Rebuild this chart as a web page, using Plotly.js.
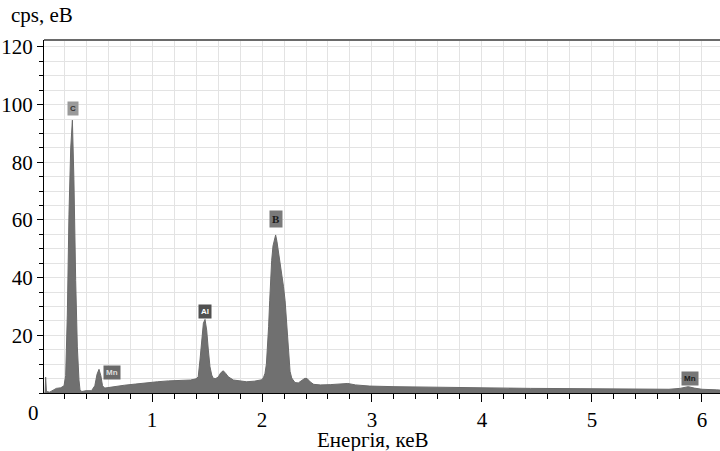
<!DOCTYPE html>
<html>
<head>
<meta charset="utf-8">
<script src="https://cdn.plot.ly/plotly-3.0.1.min.js"></script>
<style>html,body{margin:0;padding:0;background:#fff;}#chart{width:720px;height:451px;}</style>
</head>
<body>
<div id="chart"></div>
<script>
// Energy (keV) and counts (cps/eV)
const energy = [0.02,0.028,0.033,0.04,0.07,0.1,0.13,0.17,0.2,0.215,0.23,0.245,0.261,0.276,0.29,0.306,0.321,0.336,0.345,0.36,0.4,0.45,0.48,0.5,0.518,0.535,0.55,0.57,0.65,0.75,0.85,0.95,1.05,1.15,1.25,1.35,1.4,1.42,1.436,1.452,1.467,1.482,1.497,1.512,1.527,1.543,1.557,1.58,1.603,1.625,1.648,1.67,1.694,1.74,1.8,1.86,1.93,1.98,2.0,2.015,2.027,2.04,2.05,2.06,2.07,2.08,2.088,2.1,2.109,2.124,2.136,2.148,2.165,2.179,2.195,2.21,2.225,2.24,2.255,2.27,2.3,2.33,2.36,2.39,2.41,2.44,2.47,2.53,2.62,2.7,2.78,2.85,2.98,3.2,3.53,4.0,4.44,4.9,5.35,5.7,5.8,5.875,5.93,6.0,6.13,6.17];
const counts = [0,0,5.5,0.5,0.3,1.0,1.6,1.8,2.5,6,27,62,85,94.6,74,39,16,4.5,1.2,0.5,0.8,0.8,2.5,6.5,8.2,6,2.5,1.7,2.2,2.7,3.1,3.6,3.9,4.2,4.4,4.5,4.9,5.6,11.4,18.4,24.2,25.5,21.8,14.9,9.1,6.2,5.1,5.0,5.6,7.0,7.7,6.8,5.6,4.5,4.1,3.9,4.1,4.4,4.6,5.5,6.8,10,14.9,23,32,41,46,51,53,54.8,52.5,49.6,45,41.5,37,32,23,12.5,7.5,5.2,3.6,3.5,4.2,5.1,5.0,3.8,3.0,2.8,2.9,3.1,3.3,2.8,2.4,2.2,2.0,1.8,1.6,1.5,1.4,1.3,1.6,2.2,1.7,1.3,1.1,1.0];

// Element peak labels
const peakLabels = ["C","Mn","Al","B","Mn"];
const peakX = [0.28,0.636,1.482,2.127,5.89];
const peakY = [98.6,7.0,28.4,60.2,5.2];
const labelBg = ["#9a9a9a","#6a6a6a","#505050","#7a7a7a","#777777"];
const labelFg = ["#333333","#dddddd","#ffffff","#1a1a1a","#1a1a1a"];

const xTickVals = [1,2,3,4,5,6];
const yTickVals = [20,40,60,80,100,120];

const SERIF = 'Liberation Serif';

const trace = {
  x: energy, y: counts, type: 'scatter', mode: 'lines',
  fill: 'tozeroy', fillcolor: '#707070',
  line: {color: '#6a6a6a', width: 1},
  hoverinfo: 'skip'
};

const annotations = peakLabels.map((t,i)=>({
  x: peakX[i], y: peakY[i], xref:'x', yref:'y', text: '<b>'+t+'</b>', showarrow:false,
  font:{family: t==='B' ? SERIF : 'Arial', size: t==='B'?11:8, color: labelFg[i]},
  bgcolor: labelBg[i], borderpad: 2
}));
annotations.push({
  text:'0', showarrow:false, xref:'paper', yref:'paper', x:-0.0148, y:-0.0567, xanchor:'center', yanchor:'middle',
  font:{family:SERIF, size:21, color:'#000'}
});
annotations.push({
  text:'cps, eB', showarrow:false, xref:'paper', yref:'paper', x:-0.0518, y:1.071, xanchor:'left', yanchor:'middle',
  font:{family:SERIF, size:21, color:'#000'}
});
annotations.push({
  text:'Енергія, кеВ', showarrow:false, xref:'paper', yref:'paper', x:0.487, y:-0.132, xanchor:'center', yanchor:'middle',
  font:{family:SERIF, size:21, color:'#000'}
});

const layout = {
  width: 720, height: 451,
  margin: {l:44, r:0, t:40, b:58, pad:0},
  paper_bgcolor:'#fff', plot_bgcolor:'#fff',
  showlegend:false,
  font:{family:SERIF, size:21, color:'#000'},
  xaxis: {
    range:[0.018,6.164], tickvals:xTickVals, ticktext:xTickVals.map(String),
    ticks:'outside', ticklen:8, tickwidth:1, tickcolor:'#000',
    showline:true, linecolor:'#000', linewidth:1,
    showgrid:true, gridcolor:'#e3e3e3', gridwidth:1, zeroline:false,
    minor:{dtick:0.2, tick0:0, ticks:'outside', ticklen:5, tickcolor:'#000', showgrid:true, gridcolor:'#e3e3e3', gridwidth:1},
    tickfont:{family:SERIF, size:21, color:'#000'}
  },
  yaxis: {
    range:[0,122.4], tickvals:yTickVals, ticktext:yTickVals.map(String),
    ticks:'outside', ticklen:6, tickwidth:1, tickcolor:'#000',
    showline:true, linecolor:'#000', linewidth:1,
    showgrid:true, gridcolor:'#e3e3e3', gridwidth:1, zeroline:false,
    minor:{dtick:5, tick0:0, ticks:'outside', ticklen:4, tickcolor:'#000', showgrid:true, gridcolor:'#e3e3e3', gridwidth:1},
    tickfont:{family:SERIF, size:21, color:'#000'}
  },
  shapes:[{type:'line', xref:'paper', yref:'paper', x0:0, x1:1, y0:1, y1:1, line:{color:'#6a6a6a', width:2}}],
  annotations: annotations
};

Plotly.newPlot('chart', [trace], layout, {displayModeBar:false, staticPlot:true});
</script>
</body>
</html>
